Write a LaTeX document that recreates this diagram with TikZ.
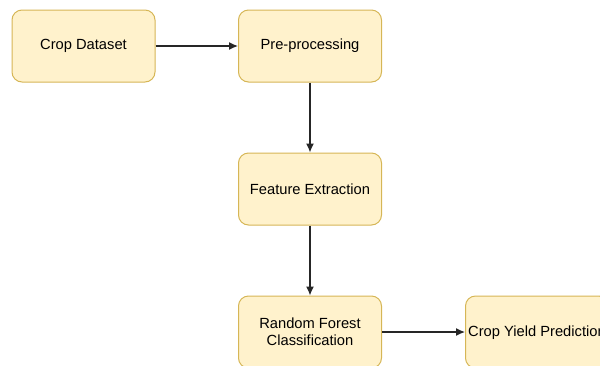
\documentclass[tikz,border=0pt]{standalone}
\usepackage{fontspec}
\setmainfont{Liberation Sans}
\usetikzlibrary{arrows.meta}
\definecolor{boxfill}{HTML}{FFF2CC}
\definecolor{boxline}{HTML}{D6B656}
\tikzstyle{stage} = [draw=boxline, fill=boxfill, line width=1pt, rounded corners=10pt, minimum width=143pt, minimum height=72pt, align=center, font=\fontsize{14.7}{17}\selectfont, inner sep=0pt]
\tikzstyle{flow} = [-{Latex[length=9pt,width=8pt]}, line width=1.3pt, draw=black!85]

\begin{document}
\begin{tikzpicture}[x=1pt,y=-1pt]
      \useasboundingbox (0,0) rectangle (600,365);
      \begin{scope}
      \clip (0,0) rectangle (600,365);
      \node[stage] (dataset) at (83.5,46) {Crop Dataset};
      \node[stage] (preproc) at (310,46) {Pre-processing};
      \node[stage] (features) at (310,189) {Feature Extraction};
      \node[stage] (forest) at (310,332) {Random Forest\\Classification};
      \node[stage] (yield) at (537,332) {};
      \node[anchor=west, font=\fontsize{14.7}{17}\selectfont, inner sep=0pt] (yieldtext) at (468,333) {Crop Yield Prediction};
      \draw[flow] (dataset) -- (preproc);
      \draw[flow] (preproc) -- (features);
      \draw[flow] (features) -- (forest);
      \draw[flow] (forest) -- (yield);
      \end{scope}
    \end{tikzpicture}
\end{document}
